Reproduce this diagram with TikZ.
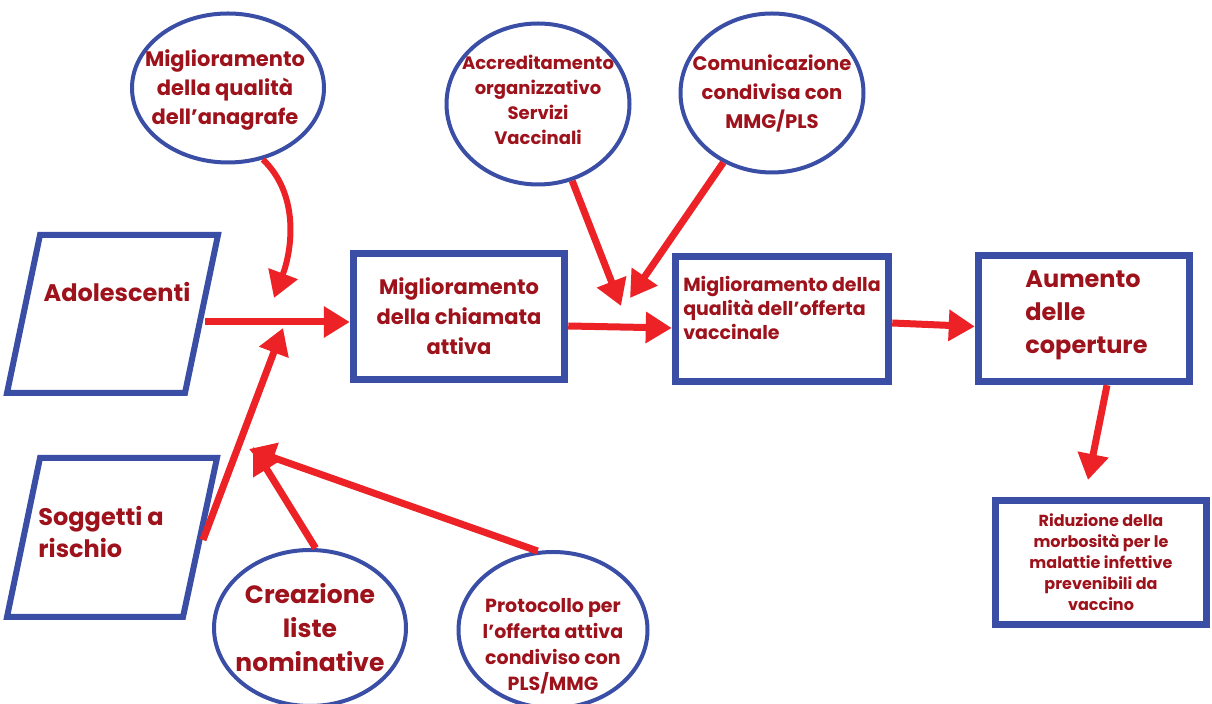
\documentclass[tikz,border=0pt]{standalone}
\usepackage{fontspec}
\setmainfont{Poppins}
\usetikzlibrary{shapes.geometric,arrows.meta}
\definecolor{bblue}{RGB}{58,78,165}
\definecolor{ared}{RGB}{236,34,38}
\definecolor{tred}{RGB}{158,18,28}
\tikzset{
  fnt/.style 2 args={font=\fontsize{#1}{#2}\selectfont\bfseries},
  el/.style={ellipse, draw=bblue, line width=2pt, fill=white, inner sep=0pt},
  bx/.style={rectangle, draw=bblue, line width=3.75pt, fill=white, align=center, text=tred, inner sep=0pt},
  pg/.style={draw=bblue, line width=3pt, line join=miter},
  lbl/.style={text=tred, inner sep=0pt, align=center},
  arr/.style={draw=ared, line width=3.5pt, -{Triangle[length=13pt,width=15pt]}},
}
\begin{document}
\begin{tikzpicture}[x=0.5pt,y=-0.5pt]
\fill[white] (0,0) rectangle (1212,704);
\useasboundingbox (0,0) rectangle (1212,704);

% ellipses
\node[el, minimum width=96pt, minimum height=74.5pt] (anag) at (228,88) {};
\node[lbl, fnt={10.5}{14.5}] (anagtxt) at (225,90) {Miglioramento\\della qualità\\dell’anagrafe};
\node[el, minimum width=91.5pt, minimum height=80.5pt] (accr) at (538,104) {};
\node[lbl, fnt={9}{12.5}] (accrtxt) at (538,100) {Accreditamento\\organizzativo\\Servizi\\Vaccinali};
\node[el, minimum width=91.5pt, minimum height=79.5pt] (comu) at (772,93) {};
\node[lbl, fnt={9.8}{14.5}] (comutxt) at (772,93) {Comunicazione\\condivisa con\\MMG/PLS};
\node[el, minimum width=96pt, minimum height=78pt] (crea) at (310,628) {};
\node[lbl, fnt={12.5}{17}] (creatxt) at (310,628) {Creazione\\liste\\nominative};
\node[el, minimum width=94.5pt, minimum height=78pt] (prot) at (553,630) {};
\node[lbl, fnt={9.5}{13}] (prottxt) at (553,646) {Protocollo per\\l’offerta attiva\\condiviso con\\PLS/MMG};

% parallelograms
\draw[pg] (40,235) -- (218,235) -- (185,393) -- (7,393) -- cycle;
\node[lbl, fnt={12}{15}] (ado) at (117,292) {Adolescenti};
\draw[pg] (40,458) -- (217,458) -- (183,617) -- (7,617) -- cycle;
\node[lbl, fnt={12}{16}, align=left, anchor=west] (sogg) at (38,532) {Soggetti a\\rischio};

% boxes
\node[bx, minimum width=105.5pt, minimum height=63pt, fnt={10.5}{15}] (chiam) at (459,316.5) {Miglioramento\\della chiamata\\attiva};
\node[bx, minimum width=106.5pt, minimum height=62.5pt] (offer) at (782,319) {};
\node[lbl, align=left, fnt={9.5}{12}] (offertxt) at (782,308) {Miglioramento della\\qualità dell’offerta\\vaccinale};
\node[bx, minimum width=105.5pt, minimum height=63pt] (aum) at (1084,318.5) {};
\node[lbl, align=left, anchor=west, fnt={12}{16.5}] (aumtxt) at (1025,315) {Aumento\\delle\\coperture};
\node[bx, minimum width=105.5pt, minimum height=62pt, fnt={8}{10.5}] (rid) at (1101,562.5) {Riduzione della\\morbosità per le\\malattie infettive\\prevenibili da\\vaccino};

% connector end points
\coordinate (adoR) at (205,322);
\coordinate (soggR) at (203,540);
\coordinate (tA) at (274,298);
\coordinate (tB) at (283,328);
\coordinate (tC) at (253,447);
\coordinate (tD) at (249,449);
\coordinate (tE) at (621,306);
\coordinate (tF) at (630,298);
\coordinate (tG) at (1088,480);

% arrows
\draw[arr, line width=3pt] (anag.-64) .. controls (300,195) and (292,250) .. (tA);
\draw[arr] (adoR) -- (chiam.west |- adoR);
\draw[arr] (soggR) -- (tB);
\draw[arr] (crea.86) -- (tC);
\draw[arr] (prot.101) -- (tD);
\draw[arr] (accr.-66) -- (tE);
\draw[arr] (comu.-125) -- (tF);
\draw[arr] ([yshift=-4.75pt]chiam.east) -- ([yshift=-4.5pt]offer.west);
\draw[arr] ([yshift=-2pt]offer.east) -- ([yshift=-4pt]aum.west);
\draw[arr] ([xshift=11.5pt]aum.south) -- (tG);
\end{tikzpicture}
\end{document}
